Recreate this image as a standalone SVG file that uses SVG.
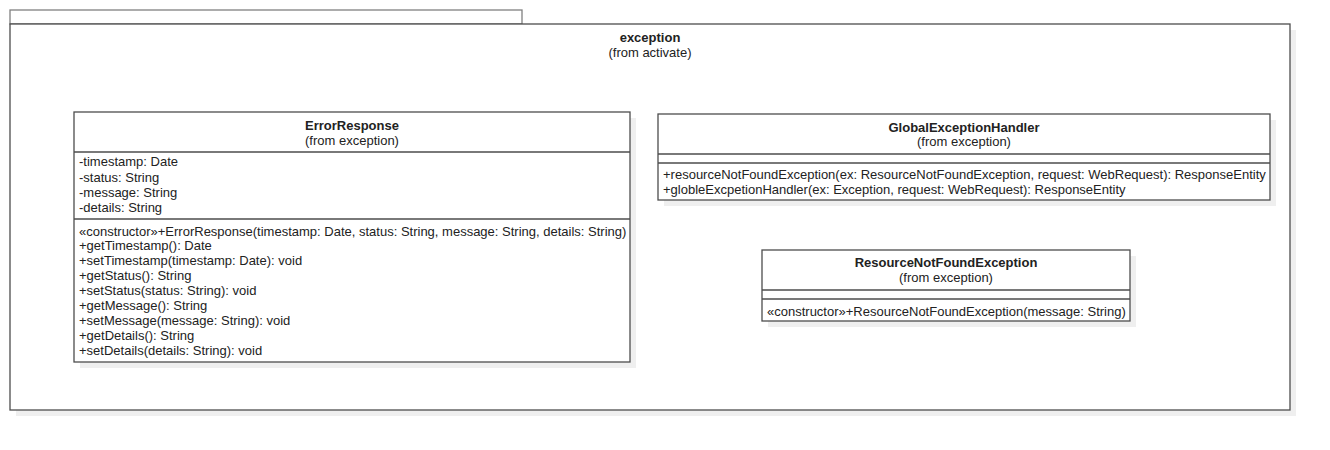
<svg xmlns="http://www.w3.org/2000/svg" width="1330" height="450" viewBox="0 0 1330 450">
<style>
  text { font-family: "Liberation Sans", Arial, sans-serif; font-size: 13px; fill: #222; }
  .b { font-weight: bold; }
  .c { text-anchor: middle; }
  .box { fill: #fff; stroke: #4d4d4d; stroke-width: 1.3; }
  .tab { fill: #fff; stroke: #808080; stroke-width: 1.3; }
  .sh { fill: #efefef; }
  .ln { stroke: #4d4d4d; stroke-width: 1.3; }
</style>
<rect width="1330" height="450" fill="#fff"/>
<g id="package-exception">
  <rect class="sh" x="16" y="30" width="1280" height="386"/>
  <rect class="tab" x="10" y="10" width="512" height="14"/>
  <rect class="box" x="10" y="24" width="1280" height="386"/>
  <text class="b c" x="650" y="42">exception</text>
  <text class="c" x="650" y="57">(from activate)</text>
</g>
<g id="ErrorResponse">
  <rect class="sh" x="80" y="118" width="556" height="250"/>
  <rect class="box" x="74" y="112" width="556" height="250"/>
  <line class="ln" x1="74" y1="152" x2="630" y2="152"/>
  <line class="ln" x1="74" y1="219" x2="630" y2="219"/>
  <text class="b c" x="352" y="130">ErrorResponse</text>
  <text class="c" x="352" y="145">(from exception)</text>
  <text x="79" y="166">-timestamp: Date</text>
  <text x="79" y="182">-status: String</text>
  <text x="79" y="197">-message: String</text>
  <text x="79" y="212">-details: String</text>
  <text x="79" y="236">«constructor»+ErrorResponse(timestamp: Date, status: String, message: String, details: String)</text>
  <text x="79" y="250">+getTimestamp(): Date</text>
  <text x="79" y="265">+setTimestamp(timestamp: Date): void</text>
  <text x="79" y="280">+getStatus(): String</text>
  <text x="79" y="295">+setStatus(status: String): void</text>
  <text x="79" y="310">+getMessage(): String</text>
  <text x="79" y="325">+setMessage(message: String): void</text>
  <text x="79" y="340">+getDetails(): String</text>
  <text x="79" y="355">+setDetails(details: String): void</text>
</g>
<g id="GlobalExceptionHandler">
  <rect class="sh" x="664" y="120" width="612" height="86"/>
  <rect class="box" x="658" y="114" width="612" height="86"/>
  <line class="ln" x1="658" y1="154" x2="1270" y2="154"/>
  <line class="ln" x1="658" y1="163" x2="1270" y2="163"/>
  <text class="b c" x="964" y="132">GlobalExceptionHandler</text>
  <text class="c" x="964" y="146">(from exception)</text>
  <text x="663" y="179">+resourceNotFoundException(ex: ResourceNotFoundException, request: WebRequest): ResponseEntity</text>
  <text x="663" y="194">+globleExcpetionHandler(ex: Exception, request: WebRequest): ResponseEntity</text>
</g>
<g id="ResourceNotFoundException">
  <rect class="sh" x="768" y="256" width="368" height="71"/>
  <rect class="box" x="762" y="250" width="368" height="71"/>
  <line class="ln" x1="762" y1="290" x2="1130" y2="290"/>
  <line class="ln" x1="762" y1="299" x2="1130" y2="299"/>
  <text class="b c" x="946" y="267">ResourceNotFoundException</text>
  <text class="c" x="946" y="282">(from exception)</text>
  <text x="767" y="316">«constructor»+ResourceNotFoundException(message: String)</text>
</g>
<g id="connectors"></g>
</svg>
